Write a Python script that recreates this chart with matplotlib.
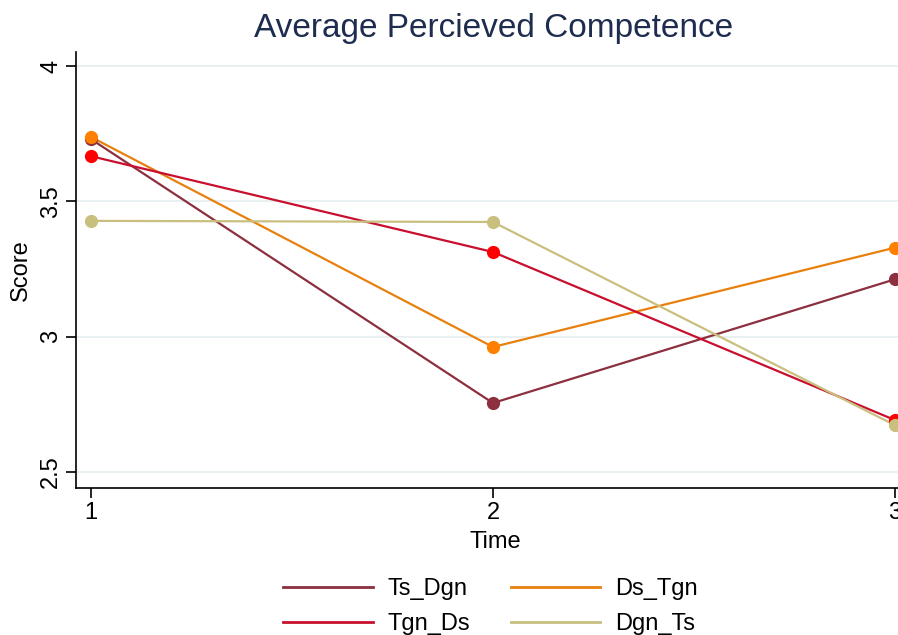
import matplotlib
matplotlib.use("Agg")
import matplotlib.pyplot as plt
from matplotlib.lines import Line2D

plt.rcParams['font.family'] = ['Liberation Sans', 'DejaVu Sans']

time = [1, 2, 3]
groups = ["Ts_Dgn", "Ds_Tgn", "Tgn_Ds", "Dgn_Ts"]
ts_dgn = [3.730, 2.755, 3.212]
ds_tgn = [3.738, 2.962, 3.329]
tgn_ds = [3.667, 3.313, 2.692]
dgn_ts = [3.428, 3.424, 2.673]
yticks = [2.5, 3, 3.5, 4]
xticks = [1, 2, 3]

series = [ts_dgn, ds_tgn, tgn_ds, dgn_ts]
line_colors = ["#8C2F3E", "#E8800D", "#C8102E", "#C9BF7E"]
marker_colors = ["#8C2F3E", "#FF8000", "#FF0000", "#C9BF7E"]

fig = plt.figure(figsize=(8.98, 6.35), dpi=100)
ax = fig.add_axes([76 / 898, 147 / 635, 839 / 898, 436 / 635])

for vals, lc, mc in zip(series, line_colors, marker_colors):
    ax.plot(time, vals, color=lc, lw=1.6, zorder=3, clip_on=False)
    ax.plot(time, vals, ls='none', marker='o', ms=9.5, color=mc,
            markeredgewidth=0, zorder=4, clip_on=False)

ax.set_xlim(0.9627, 3.05)
ax.set_ylim(2.441, 4.052)
ax.set_yticks(yticks)
ax.set_yticklabels([f"{v:g}" for v in yticks], rotation=90, va='center')
ax.set_xticks(xticks)
ax.grid(axis='y', color='#E4EDF0', lw=1.2, zorder=0)
ax.set_axisbelow(True)

for s in ['top', 'right']:
    ax.spines[s].set_visible(False)
for s in ['left', 'bottom']:
    ax.spines[s].set_linewidth(1.2)
ax.tick_params(axis='both', labelsize=17, length=7, width=1.2, colors='black')
ax.tick_params(axis='y', pad=3)
ax.tick_params(axis='x', pad=3)
ax.set_xlabel("Time", fontsize=17, labelpad=5)
ax.set_ylabel("Score", fontsize=17, labelpad=6)

fig.text(494 / 898, 1 - 29 / 635, "Average Percieved Competence", fontsize=24,
         color='#1E2D4F', ha='center', va='center')

handles = [Line2D([], [], color=c, lw=2) for c in line_colors]
order = [0, 2, 1, 3]
fig.legend([handles[i] for i in order], [groups[i] for i in order],
           ncol=2, loc='upper left', bbox_to_anchor=(283 / 898, 1 - 578 / 635),
           frameon=False, fontsize=17, handlelength=3.8, handletextpad=0.64,
           columnspacing=1.7, labelspacing=0.55, borderaxespad=0,
           borderpad=0)

fig.savefig("out.png", dpi=100)
